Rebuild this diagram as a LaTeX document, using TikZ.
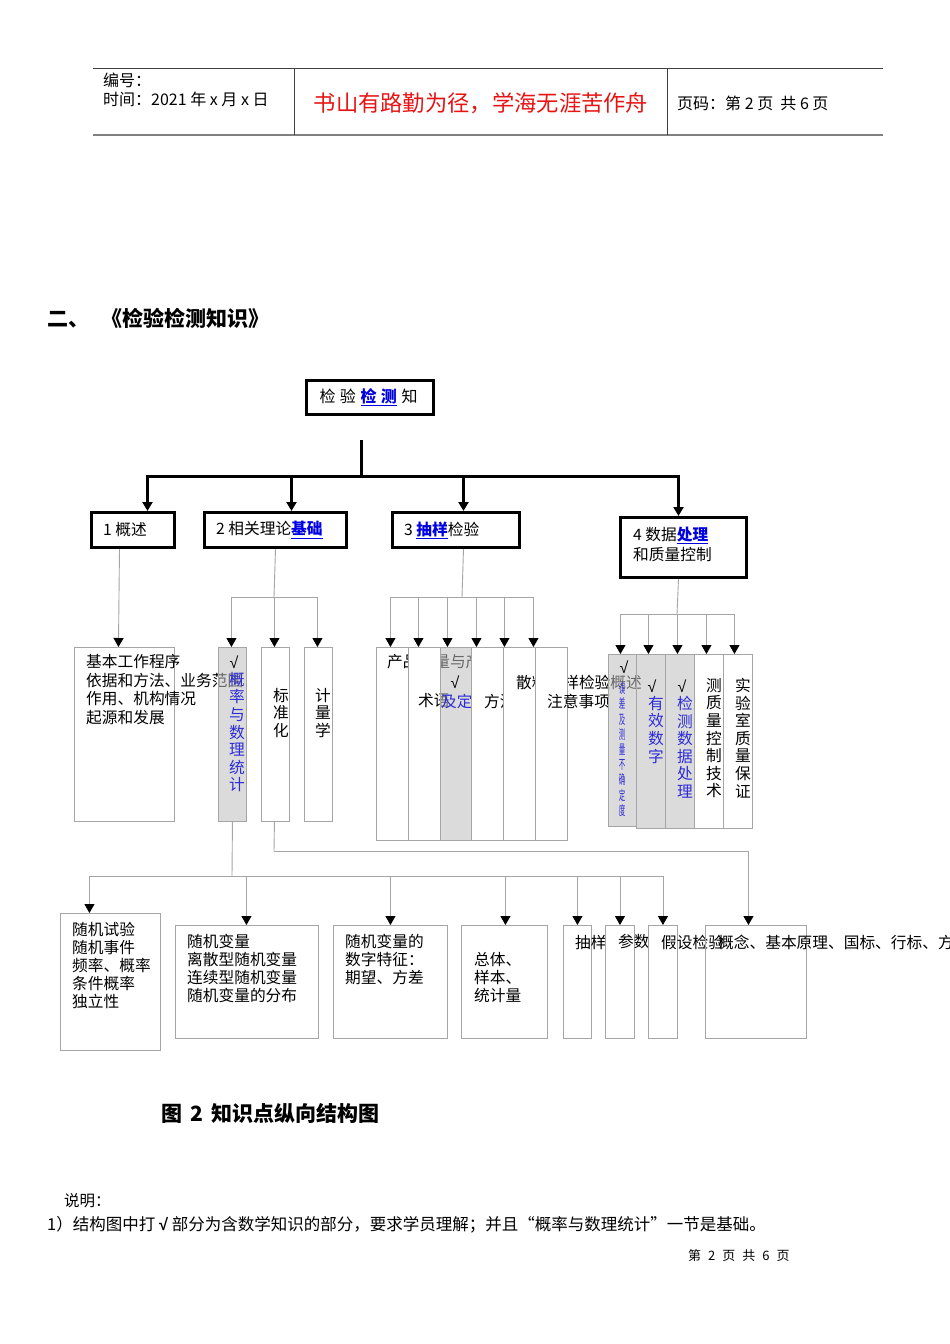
\documentclass[tikz,border=0pt]{standalone}
\usepackage{fontspec}
\setmainfont{Noto Sans CJK SC}
\newfontfamily\narrowcjk[FakeStretch=0.5]{Noto Sans CJK SC}
\newfontfamily\symf{Liberation Sans}
\usetikzlibrary{arrows.meta}
\definecolor{linkblue}{RGB}{0,0,225}
\definecolor{vblue}{RGB}{45,45,215}
\definecolor{hred}{RGB}{232,20,20}
\definecolor{lgray}{RGB}{165,165,165}
\definecolor{boxgray}{RGB}{190,190,190}
\newcommand{\myfs}[1]{\fontsize{#1}{#1}\selectfont}
\tikzset{
  thickbox/.style={draw, line width=3pt, inner sep=0pt, anchor=north west},
  thinbox/.style={draw=lgray, line width=0.9pt, inner sep=0pt, anchor=north west},
  whitebox/.style={thinbox, fill=white},
  graybox/.style={thinbox, fill=boxgray, fill opacity=0.55},
  thickline/.style={line width=3pt},
  thickarrow/.style={line width=3pt, -{Triangle[width=10pt,length=9pt]}},
  thinline/.style={draw=lgray, line width=0.9pt},
  thinarrow/.style={draw=lgray, line width=0.9pt, -{Triangle[width=10pt,length=9pt,color=black]}},
  txt/.style={inner sep=0pt, anchor=west, font=\fontsize{15.7}{18.7}\selectfont},
  mtxt/.style={inner sep=0pt, anchor=north west, align=left, font=\fontsize{15.7}{18.7}\selectfont},
  vtxt/.style={inner sep=0pt, anchor=north, align=center, font=\fontsize{15.7}{17.6}\selectfont},
  chk/.style={inner sep=0pt, font=\symf\myfs{16}},
}
\begin{document}
\begin{tikzpicture}[x=1pt,y=-1pt]
\useasboundingbox[fill=white] (0,0) rectangle (950,1344);

% ---------- header ----------
\draw[black!75, line width=0.8pt] (93,68) -- (883,68);
\draw[black!50, line width=2pt] (93,135) -- (883,135);
\draw[black!75, line width=0.8pt] (294,68) -- (294,135);
\draw[black!75, line width=0.8pt] (667,68) -- (667,135);
\node[txt, font=\myfs{16}] (h1) at (103,80) {编号：};
\node[txt, font=\myfs{16}] (h2) at (103,99) {时间：2021 年 x 月 x 日};
\node[inner sep=0pt, font=\myfs{22.3}, text=hred] (h3) at (481,103) {书山有路勤为径，学海无涯苦作舟};
\node[txt, font=\myfs{16}] (h4) at (677,103) {页码：第 2 页\ \ 共 6 页};

% ---------- title ----------
\node[txt, font=\bfseries\myfs{21}] (title) at (47,318) {二、\hspace{0.6em}《检验检测知识》};

% ---------- root ----------
\node[thickbox, minimum width=127pt, minimum height=34pt] (root) at (305,379) {};
\node[inner sep=0pt, font=\myfs{16}] (roott) at (368.5,397) {检\hspace{4.5pt}验\hspace{4.5pt}\textcolor{linkblue}{\bfseries\underline{检\hspace{4.5pt}测}}\hspace{4.5pt}知};
\coordinate (stem) at (361,440);
\coordinate (bus) at (361,476);
\draw[thickline] (stem) -- (bus);

% ---------- level 2 ----------
\node[thickbox, minimum width=83pt, minimum height=35pt] (b1) at (90,511) {};
\node[thickbox, minimum width=142pt, minimum height=35pt] (b2) at (203,511) {};
\node[thickbox, minimum width=127pt, minimum height=35pt] (b3) at (391,511) {};
\node[thickbox, minimum width=126pt, minimum height=60pt] (b4) at (619,516) {};
\draw[thickarrow] (bus) -| ([xshift=14.5pt]b1.north);
\draw[thickarrow] (bus) -| ([xshift=16pt]b2.north);
\draw[thickarrow] (bus) -| ([xshift=7.5pt]b3.north);
\draw[thickarrow] (bus) -| ([xshift=-5pt]b4.north);
\node[txt] (b1t) at (103,530) {1 概述};
\node[txt] (b2t) at (216,530) {2 相关理论\textcolor{linkblue}{\bfseries\underline{基础}}};
\node[txt] (b3t) at (404,530) {3 \textcolor{linkblue}{\bfseries\underline{抽样}}检验};
\node[mtxt, font=\fontsize{15.7}{20}\selectfont] (b4t) at (633,527) {4 数据\textcolor{linkblue}{\bfseries\underline{处理}}\\和质量控制};

% ---------- group 1 ----------
\node[whitebox, minimum width=100pt, minimum height=174pt] (c1) at (74,647) {};
\draw[thinarrow] ([xshift=-13.5pt]b1.south) -- ([xshift=-6pt]c1.north);
\node[mtxt] (c1t) at (86,654) {基本工作程序\\依据和方法、业务范围\\作用、机构情况\\起源和发展};

% ---------- group 2 ----------
\coordinate (j2) at (274,597);
\draw[thinline] (b2.south) -- (j2);
\node[graybox, minimum width=28pt, minimum height=174pt] (p1) at (218,647) {};
\node[chk] (p1c) at (234,662) {√};
\node[vtxt, text=vblue] (p1t) at (237,672) {概\\率\\与\\数\\理\\统\\计};
\node[whitebox, minimum width=28pt, minimum height=174pt] (p2) at (261,647) {};
\node[vtxt] (p2t) at (281,688) {标\\准\\化};
\node[whitebox, minimum width=28pt, minimum height=174pt] (p3) at (304,647) {};
\node[vtxt] (p3t) at (323,688) {计\\量\\学};
\draw[thinarrow] (j2) -| ([xshift=-1pt]p1.north);
\draw[thinarrow] (j2) -| ([xshift=-1pt]p2.north);
\draw[thinarrow] (j2) -| ([xshift=-1pt]p3.north);

% ---------- group 3 ----------
\coordinate (j3) at (462,597);
\draw[thinline] ([xshift=7.5pt]b3.south) -- (j3);
\node[whitebox, minimum width=32pt, minimum height=193pt] (g1) at (376,647) {};
\node[txt] (g1t) at (387,662) {产品质量与产品};
\node[whitebox, minimum width=32pt, minimum height=193pt] (g2) at (408,647) {};
\node[txt] (g2t) at (418,701) {术语};
\node[graybox, minimum width=31pt, minimum height=193pt] (g3) at (440,647) {};
\node[chk] (g3c) at (455,682) {√};
\node[txt, text=vblue] (g3t) at (441,701) {及定义};
\node[whitebox, minimum width=32pt, minimum height=193pt] (g4) at (471,647) {};
\node[txt] (g4t) at (484,701) {方法};
\node[whitebox, minimum width=32pt, minimum height=193pt] (g5) at (503,647) {};
\node[txt] (g5t) at (516,682) {散料抽样检验概述};
\node[whitebox, minimum width=32pt, minimum height=193pt] (g6) at (535,647) {};
\node[txt] (g6t) at (547,701) {注意事项};
\draw[thinarrow] (j3) -| ([xshift=-2pt]g1.north);
\draw[thinarrow] (j3) -| ([xshift=-6pt]g2.north);
\draw[thinarrow] (j3) -| ([xshift=-8.5pt]g3.north);
\draw[thinarrow] (j3) -| ([xshift=-11pt]g4.north);
\draw[thinarrow] (j3) -| ([xshift=-15pt]g5.north);
\draw[thinarrow] (j3) -| ([xshift=-18pt]g6.north);

% ---------- group 4 ----------
\coordinate (j4) at (677,614);
\draw[thinline] ([xshift=-5pt]b4.south) -- (j4);
\node[graybox, minimum width=28pt, minimum height=172pt] (k1) at (608,654) {};
\node[chk] (k1c) at (624,667) {√};
\node[inner sep=0pt, anchor=north, align=center, text=vblue, font=\narrowcjk\fontsize{13}{15.2}\selectfont] (k1t) at (622,683) {误\\差\\及\\测\\量\\不\\确\\定\\度};
\node[graybox, minimum width=29pt, minimum height=174pt] (k2) at (636,654) {};
\node[chk] (k2c) at (652,686) {√};
\node[vtxt, text=vblue] (k2t) at (656,696) {有\\效\\数\\字};
\node[graybox, minimum width=29pt, minimum height=174pt] (k3) at (665,654) {};
\node[chk] (k3c) at (682,686) {√};
\node[vtxt, text=vblue] (k3t) at (685,696) {检\\测\\数\\据\\处\\理};
\node[whitebox, minimum width=29pt, minimum height=174pt] (k4) at (694,654) {};
\node[vtxt] (k4t) at (714,678) {测\\质\\量\\控\\制\\技\\术};
\node[whitebox, minimum width=29pt, minimum height=174pt] (k5) at (723,654) {};
\node[vtxt] (k5t) at (743,678) {实\\验\\室\\质\\量\\保\\证};
\draw[thinarrow] (j4) -| ([xshift=-2pt]k1.north);
\draw[thinarrow] (j4) -| ([xshift=-2.5pt]k2.north);
\draw[thinarrow] (j4) -| ([xshift=-2.5pt]k3.north);
\draw[thinarrow] (j4) -| ([xshift=-2.5pt]k4.north);
\draw[thinarrow] (j4) -| ([xshift=-3.5pt]k5.north);

% ---------- bottom row ----------
\node[thinbox, minimum width=100pt, minimum height=137pt] (r1) at (60,913) {};
\node[mtxt, font=\fontsize{15.7}{18}\selectfont] (r1t) at (72,922) {随机试验\\随机事件\\频率、概率\\条件概率\\独立性};
\node[thinbox, minimum width=143pt, minimum height=113pt] (r2) at (175,925) {};
\node[mtxt, font=\fontsize{15.7}{18}\selectfont] (r2t) at (187,934) {随机变量\\离散型随机变量\\连续型随机变量\\随机变量的分布};
\node[thinbox, minimum width=114pt, minimum height=113pt] (r3) at (333,925) {};
\node[mtxt, font=\fontsize{15.7}{18}\selectfont] (r3t) at (345,934) {随机变量的\\数字特征：\\期望、方差};
\node[thinbox, minimum width=86pt, minimum height=113pt] (r4) at (461,925) {};
\node[mtxt, font=\fontsize{15.7}{18}\selectfont] (r4t) at (474,952) {总体、\\样本、\\统计量};
\node[thinbox, minimum width=28pt, minimum height=113pt] (r5) at (563,925) {};
\node[txt] (r5t) at (575,942) {抽样};
\node[whitebox, minimum width=29pt, minimum height=113pt] (r6) at (605,925) {};
\node[txt] (r6t) at (618,942) {参数};
\node[whitebox, minimum width=29pt, minimum height=113pt] (r7) at (648,925) {};
\node[txt] (r7t) at (661,942) {假设检验};
\node[thinbox, minimum width=101pt, minimum height=113pt] (r8) at (705,925) {};
\node[txt] (r8t) at (718,942) {概念、基本原理、国标、行标、方法};

\coordinate (j5) at (232,876);
\draw[thinline] (p1.south) -- (j5);
\draw[thinarrow] (j5) -| ([xshift=-21pt]r1.north);
\draw[thinarrow] (j5) -| ([xshift=-0.5pt]r2.north);
\draw[thinarrow] (j5) -| (r3.north);
\draw[thinarrow] (j5) -| ([xshift=1pt]r4.north);
\draw[thinarrow] (j5) -| (r5.north);
\draw[thinarrow] (j5) -| (r6.north);
\draw[thinarrow] (j5) -| (r7.north);
\coordinate (j6) at (274,851);
\draw[thinline] ([xshift=-1pt]p2.south) -- (j6);
\draw[thinarrow] (j6) -| ([xshift=-7.5pt]r8.north);

% ---------- caption and notes ----------
\node[txt, font=\bfseries\myfs{21}] (cap) at (161,1113) {图\hspace{0.4em}2\hspace{0.4em}知识点纵向结构图};
\node[txt, font=\myfs{15.5}] (n1) at (64,1201) {说明：};
\node[txt, font=\myfs{16.5}] (n2) at (47,1225) {1）结构图中打 {\symf\bfseries √} 部分为含数学知识的部分，要求学员理解；并且“概率与数理统计”一节是基础。};
\node[txt, font=\myfs{13}] (ft) at (688,1256) {第\hspace{7pt}2\hspace{7pt}页\hspace{7pt}共\hspace{7pt}6\hspace{7pt}页};
\end{tikzpicture}
\end{document}
